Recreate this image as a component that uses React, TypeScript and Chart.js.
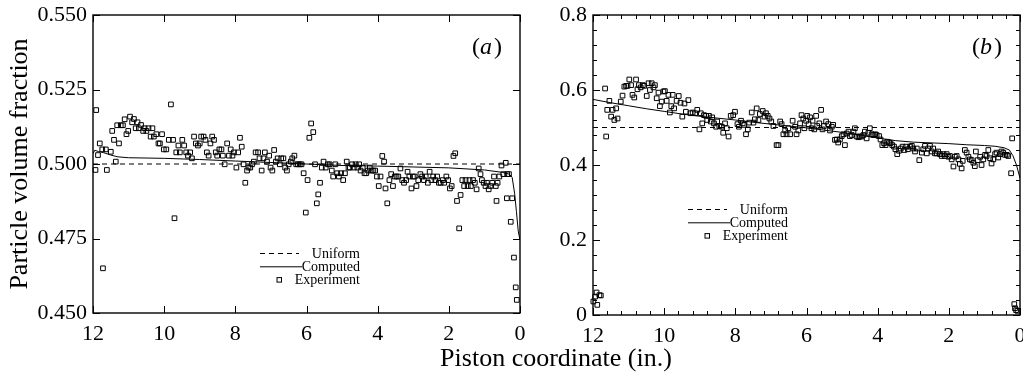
import React, { useEffect, useRef } from 'react';
import { Chart, registerables } from 'chart.js';

Chart.register(...registerables);

type P = [number, number];

const xTickValues = [12, 10, 8, 6, 4, 2, 0];
const yTickValuesA = [0.45, 0.475, 0.5, 0.525, 0.55];
const yTickValuesB = [0, 0.2, 0.4, 0.6, 0.8];
const legendLabels = ['Uniform', 'Computed', 'Experiment'];
const panelNames = ['a', 'b'];
const xTitle = 'Piston coordinate (in.)';
const yTitle = 'Particle volume fraction';

const uniformA: P[] = [[12, 0.5], [0, 0.5]];
const computedA: P[] = [
  [12, 0.5035], [11.95, 0.5046], [11.85, 0.5042], [11.7, 0.5038], [11.5, 0.503], [11.3, 0.5024],
  [11, 0.5021], [10, 0.5019], [9, 0.5015], [8, 0.501], [7, 0.5005], [6, 0.5], [5, 0.4995],
  [4, 0.4993], [3, 0.499], [2, 0.4987], [1, 0.498], [0.5, 0.4972], [0.3, 0.4966], [0.22, 0.4955],
  [0.15, 0.49], [0.1, 0.484], [0.05, 0.4775], [0, 0.4745],
];
const experimentA: P[] = [
  [11.93, 0.498], [11.91, 0.5181], [11.86, 0.503], [11.81, 0.5069], [11.74, 0.5049], [11.72, 0.465], [11.64, 0.5049], [11.61, 0.498], [11.5, 0.5041], [11.46, 0.5111], [11.41, 0.5081], [11.36, 0.5008], [11.32, 0.513], [11.27, 0.5069], [11.22, 0.513], [11.16, 0.513], [11.11, 0.515], [11.06, 0.51], [11.01, 0.5111], [10.96, 0.5159], [10.9, 0.514], [10.85, 0.5151], [10.8, 0.512], [10.75, 0.514], [10.71, 0.512], [10.65, 0.5131], [10.59, 0.5111], [10.55, 0.512], [10.5, 0.5111], [10.44, 0.512], [10.38, 0.5092], [10.33, 0.512], [10.29, 0.5092], [10.22, 0.51], [10.16, 0.5069], [10.12, 0.5069], [10.06, 0.51], [10.01, 0.5049], [9.94, 0.5049], [9.87, 0.5081], [9.81, 0.52], [9.75, 0.5081], [9.71, 0.4818], [9.66, 0.5039], [9.6, 0.5062], [9.56, 0.5039], [9.49, 0.5081], [9.44, 0.5062], [9.38, 0.5039], [9.33, 0.5028], [9.27, 0.5039], [9.22, 0.5019], [9.16, 0.5092], [9.11, 0.5069], [9.05, 0.5062], [9.0, 0.5069], [8.96, 0.5092], [8.89, 0.5092], [8.84, 0.5081], [8.8, 0.5039], [8.75, 0.5028], [8.7, 0.5069], [8.65, 0.5092], [8.6, 0.5081], [8.55, 0.5039], [8.51, 0.5028], [8.45, 0.5049], [8.39, 0.5049], [8.35, 0.5028], [8.3, 0.4999], [8.23, 0.5069], [8.18, 0.5028], [8.13, 0.5049], [8.08, 0.5028], [8.04, 0.5039], [7.97, 0.4988], [7.92, 0.5039], [7.87, 0.5088], [7.82, 0.5058], [7.77, 0.4999], [7.72, 0.4937], [7.67, 0.4978], [7.63, 0.4988], [7.58, 0.4988], [7.53, 0.4999], [7.48, 0.5008], [7.43, 0.5039], [7.36, 0.5039], [7.32, 0.5019], [7.26, 0.4978], [7.21, 0.5019], [7.17, 0.5039], [7.11, 0.5008], [7.05, 0.5028], [7.01, 0.4988], [6.96, 0.4978], [6.91, 0.5047], [6.86, 0.5008], [6.81, 0.5019], [6.75, 0.4999], [6.71, 0.5019], [6.65, 0.5019], [6.6, 0.4988], [6.55, 0.4978], [6.5, 0.4999], [6.44, 0.5008], [6.4, 0.5019], [6.34, 0.5028], [6.29, 0.4999], [6.24, 0.4999], [6.19, 0.4999], [6.14, 0.4999], [6.08, 0.4969], [6.02, 0.4837], [5.97, 0.4946], [5.92, 0.5088], [5.87, 0.5136], [5.81, 0.5107], [5.76, 0.4999], [5.71, 0.4868], [5.67, 0.4898], [5.62, 0.4937], [5.57, 0.4988], [5.52, 0.5008], [5.46, 0.4988], [5.4, 0.4999], [5.35, 0.4999], [5.29, 0.4978], [5.25, 0.4958], [5.19, 0.4999], [5.14, 0.4969], [5.09, 0.4958], [5.03, 0.4969], [4.97, 0.4946], [4.92, 0.4969], [4.87, 0.5008], [4.82, 0.4988], [4.78, 0.4988], [4.72, 0.4999], [4.67, 0.4988], [4.62, 0.4999], [4.57, 0.4988], [4.52, 0.4999], [4.48, 0.4978], [4.42, 0.4988], [4.37, 0.4969], [4.32, 0.4969], [4.27, 0.4978], [4.22, 0.4988], [4.17, 0.4978], [4.12, 0.4978], [4.07, 0.4978], [4.02, 0.4958], [3.97, 0.4926], [3.92, 0.4958], [3.87, 0.5027], [3.82, 0.5008], [3.78, 0.4918], [3.73, 0.4868], [3.67, 0.4946], [3.62, 0.4966], [3.57, 0.4926], [3.52, 0.4958], [3.47, 0.4958], [3.42, 0.4958], [3.36, 0.4985], [3.31, 0.4946], [3.26, 0.4937], [3.2, 0.4946], [3.16, 0.4974], [3.11, 0.4958], [3.05, 0.4918], [3.01, 0.4958], [2.96, 0.4958], [2.91, 0.4926], [2.86, 0.4946], [2.8, 0.4966], [2.75, 0.4958], [2.7, 0.4946], [2.65, 0.4958], [2.59, 0.4937], [2.54, 0.4974], [2.49, 0.4946], [2.44, 0.4958], [2.38, 0.4946], [2.33, 0.4958], [2.28, 0.4937], [2.23, 0.4937], [2.17, 0.4946], [2.13, 0.4937], [2.07, 0.4958], [2.02, 0.4946], [1.97, 0.4918], [1.92, 0.4926], [1.87, 0.5027], [1.82, 0.5036], [1.77, 0.4876], [1.71, 0.4784], [1.67, 0.4896], [1.62, 0.4946], [1.57, 0.4926], [1.53, 0.4946], [1.47, 0.4926], [1.42, 0.4946], [1.38, 0.4926], [1.32, 0.4946], [1.27, 0.4937], [1.22, 0.4915], [1.16, 0.4985], [1.11, 0.4966], [1.07, 0.4946], [1.02, 0.4937], [0.97, 0.4926], [0.93, 0.4937], [0.88, 0.4915], [0.83, 0.4926], [0.78, 0.4937], [0.73, 0.4958], [0.68, 0.4926], [0.66, 0.4876], [0.63, 0.4937], [0.58, 0.4958], [0.52, 0.4995], [0.47, 0.4966], [0.4, 0.5004], [0.36, 0.4966], [0.31, 0.4966], [0.37, 0.4885], [0.22, 0.4885], [0.26, 0.4806], [0.17, 0.4686], [0.12, 0.4586], [0.09, 0.4544],
];

const uniformB: P[] = [[12, 0.5], [0, 0.5]];
const computedB: P[] = [
  [12, 0.575], [11.5, 0.566], [11, 0.558], [10.5, 0.55], [10, 0.543], [9.5, 0.536], [9, 0.53],
  [8.5, 0.525], [8, 0.52], [7.5, 0.514], [7, 0.509], [6.5, 0.504], [6, 0.499], [5.5, 0.493],
  [5, 0.487], [4.5, 0.48], [4, 0.472], [3.5, 0.465], [3, 0.461], [2.5, 0.459], [2, 0.457],
  [1.5, 0.454], [1, 0.452], [0.7, 0.45], [0.45, 0.446], [0.3, 0.44], [0.2, 0.425], [0.1, 0.4], [0, 0.365],
];
const experimentB: P[] = [
  [11.99, 0.036], [11.94, 0.049], [11.9, 0.06], [11.88, 0.027], [11.82, 0.053], [11.78, 0.052],
  [0.25, 0.378], [0.22, 0.471], [0.16, 0.029], [0.11, 0.013], [0.07, 0.011], [0.14, 0.018],
  [11.66, 0.604], [11.63, 0.476], [11.6, 0.547], [11.54, 0.571], [11.49, 0.529], [11.45, 0.547], [11.4, 0.52], [11.35, 0.551], [11.31, 0.524], [11.22, 0.569], [11.17, 0.585], [11.12, 0.609], [11.07, 0.611], [11.03, 0.611], [10.98, 0.628], [10.93, 0.613], [10.89, 0.587], [10.84, 0.58], [10.79, 0.628], [10.75, 0.602], [10.71, 0.613], [10.66, 0.607], [10.6, 0.613], [10.56, 0.611], [10.49, 0.584], [10.44, 0.618], [10.4, 0.6], [10.35, 0.618], [10.3, 0.607], [10.26, 0.613], [10.21, 0.578], [10.16, 0.593], [10.12, 0.557], [10.07, 0.569], [10.02, 0.596], [9.98, 0.597], [9.93, 0.571], [9.88, 0.587], [9.84, 0.54], [9.8, 0.557], [9.76, 0.587], [9.72, 0.551], [9.65, 0.571], [9.59, 0.584], [9.54, 0.566], [9.49, 0.529], [9.43, 0.564], [9.39, 0.542], [9.32, 0.573], [9.26, 0.538], [9.2, 0.54], [9.13, 0.538], [9.07, 0.547], [9.01, 0.495], [8.97, 0.538], [8.93, 0.511], [8.88, 0.533], [8.82, 0.531], [8.79, 0.52], [8.74, 0.531], [8.69, 0.516], [8.65, 0.527], [8.6, 0.511], [8.54, 0.502], [8.51, 0.516], [8.45, 0.504], [8.38, 0.502], [8.34, 0.486], [8.29, 0.511], [8.24, 0.498], [8.19, 0.476], [8.13, 0.531], [8.06, 0.533], [8.01, 0.542], [7.94, 0.509], [7.9, 0.502], [7.84, 0.518], [7.79, 0.511], [7.75, 0.507], [7.7, 0.482], [7.65, 0.495], [7.61, 0.513], [7.54, 0.54], [7.49, 0.513], [7.45, 0.522], [7.4, 0.551], [7.35, 0.52], [7.31, 0.536], [7.23, 0.544], [7.18, 0.529], [7.14, 0.538], [7.09, 0.531], [7.04, 0.524], [6.99, 0.516], [6.93, 0.504], [6.84, 0.453], [6.79, 0.453], [6.74, 0.516], [6.7, 0.509], [6.65, 0.482], [6.6, 0.492], [6.56, 0.482], [6.51, 0.498], [6.46, 0.482], [6.39, 0.518], [6.32, 0.502], [6.28, 0.482], [6.23, 0.492], [6.18, 0.511], [6.14, 0.533], [6.09, 0.524], [6.06, 0.498], [6.01, 0.518], [5.98, 0.531], [5.94, 0.509], [5.9, 0.527], [5.86, 0.498], [5.83, 0.518], [5.78, 0.495], [5.73, 0.531], [5.7, 0.504], [5.64, 0.511], [5.59, 0.547], [5.55, 0.495], [5.51, 0.504], [5.45, 0.516], [5.39, 0.509], [5.34, 0.492], [5.29, 0.502], [5.25, 0.507], [5.2, 0.467], [5.15, 0.468], [5.11, 0.46], [5.06, 0.468], [5.01, 0.477], [4.96, 0.482], [4.92, 0.453], [4.87, 0.484], [4.82, 0.489], [4.78, 0.477], [4.73, 0.48], [4.68, 0.489], [4.64, 0.498], [4.59, 0.476], [4.54, 0.474], [4.5, 0.476], [4.45, 0.476], [4.4, 0.48], [4.36, 0.489], [4.31, 0.471], [4.26, 0.486], [4.22, 0.498], [4.17, 0.482], [4.12, 0.48], [4.07, 0.482], [4.03, 0.48], [3.96, 0.477], [3.92, 0.468], [3.87, 0.453], [3.82, 0.458], [3.78, 0.453], [3.73, 0.462], [3.68, 0.46], [3.64, 0.458], [3.59, 0.453], [3.54, 0.449], [3.5, 0.442], [3.45, 0.429], [3.4, 0.438], [3.35, 0.444], [3.3, 0.449], [3.25, 0.44], [3.2, 0.449], [3.15, 0.442], [3.09, 0.449], [3.04, 0.451], [3.0, 0.444], [2.95, 0.436], [2.9, 0.444], [2.83, 0.413], [2.76, 0.433], [2.72, 0.442], [2.67, 0.451], [2.62, 0.431], [2.58, 0.444], [2.53, 0.451], [2.48, 0.436], [2.44, 0.444], [2.39, 0.431], [2.34, 0.431], [2.3, 0.436], [2.25, 0.429], [2.2, 0.424], [2.15, 0.429], [2.11, 0.424], [2.06, 0.429], [2.01, 0.422], [1.97, 0.424], [1.92, 0.415], [1.87, 0.396], [1.83, 0.422], [1.78, 0.424], [1.73, 0.415], [1.69, 0.403], [1.64, 0.391], [1.61, 0.411], [1.55, 0.44], [1.5, 0.433], [1.45, 0.422], [1.41, 0.415], [1.36, 0.413], [1.31, 0.406], [1.27, 0.397], [1.24, 0.436], [1.19, 0.413], [1.12, 0.422], [1.08, 0.4], [1.03, 0.415], [0.98, 0.427], [0.94, 0.424], [0.89, 0.44], [0.84, 0.418], [0.8, 0.404], [0.75, 0.415], [0.7, 0.429], [0.66, 0.433], [0.61, 0.42], [0.56, 0.429], [0.52, 0.436], [0.47, 0.433], [0.42, 0.427], [0.37, 0.427], [0.33, 0.424],
];

const FONT = '"Liberation Serif", "Times New Roman", serif';

interface PanelSpec {
  name: string;
  uniform: P[];
  computed: P[];
  experiment: P[];
  yTicks: number[];
  yFormat: (v: number) => string;
  xMinorStep: number | null;
  yMinorStep: number | null;
  yAxisWidth: number;
  xAxisHeight: number;
  showYTitle: boolean;
  legendAt: { dx: number; dy: number };
}

const toXY = (arr: P[]) => arr.map(([x, y]) => ({ x, y }));

function framePlugin(spec: PanelSpec) {
  return {
    id: 'frame-' + spec.name,
    afterDraw(chart: any) {
      const { ctx, chartArea } = chart;
      const { left, right, top, bottom } = chartArea;
      const xs = chart.scales.x;
      const ys = chart.scales.y;
      ctx.save();
      ctx.strokeStyle = '#000';
      ctx.lineWidth = 1.4;
      ctx.setLineDash([]);
      ctx.strokeRect(left, top, right - left, bottom - top);

      ctx.lineWidth = 1;
      ctx.beginPath();
      const major = 7;
      const minor = 4;
      const xT = (v: number, len: number) => {
        const px = Math.round(xs.getPixelForValue(v)) + 0.5;
        ctx.moveTo(px, bottom);
        ctx.lineTo(px, bottom - len);
        ctx.moveTo(px, top);
        ctx.lineTo(px, top + len);
      };
      const yT = (v: number, len: number) => {
        const py = Math.round(ys.getPixelForValue(v)) + 0.5;
        ctx.moveTo(left, py);
        ctx.lineTo(left + len, py);
        ctx.moveTo(right, py);
        ctx.lineTo(right - len, py);
      };
      xTickValues.forEach((v) => xT(v, major));
      spec.yTicks.forEach((v) => yT(v, major));
      if (spec.xMinorStep) {
        const n = Math.round(12 / spec.xMinorStep);
        for (let i = 0; i <= n; i++) {
          const v = i * spec.xMinorStep;
          if (xTickValues.some((t) => Math.abs(t - v) < 1e-6)) continue;
          xT(v, minor);
        }
      }
      if (spec.yMinorStep) {
        const lo = spec.yTicks[0];
        const hi = spec.yTicks[spec.yTicks.length - 1];
        const n = Math.round((hi - lo) / spec.yMinorStep);
        for (let i = 0; i <= n; i++) {
          const v = lo + i * spec.yMinorStep;
          if (spec.yTicks.some((t) => Math.abs(t - v) < 1e-6)) continue;
          yT(v, minor);
        }
      }
      ctx.stroke();

      // legend
      const lx = left + spec.legendAt.dx;
      const ly = top + spec.legendAt.dy;
      const rowH = 13.3;
      ctx.font = `14px ${FONT}`;
      ctx.fillStyle = '#000';
      ctx.textAlign = 'right';
      ctx.textBaseline = 'middle';
      const textRight = lx + 100;
      ctx.beginPath();
      ctx.setLineDash([5, 4]);
      ctx.moveTo(lx, ly + 0.5);
      ctx.lineTo(lx + 39, ly + 0.5);
      ctx.stroke();
      ctx.setLineDash([]);
      ctx.fillText(legendLabels[0], textRight, ly + 1);
      ctx.beginPath();
      ctx.moveTo(lx, ly + rowH + 0.5);
      ctx.lineTo(lx + 42, ly + rowH + 0.5);
      ctx.stroke();
      ctx.fillText(legendLabels[1], textRight, ly + rowH + 1);
      ctx.strokeRect(lx + 17, ly + 2 * rowH - 2, 4.5, 4.5);
      ctx.fillText(legendLabels[2], textRight, ly + 2 * rowH + 1);

      // panel label (a)/(b)
      const cx = right - 33;
      const cy = top + 33;
      ctx.textBaseline = 'middle';
      ctx.textAlign = 'left';
      const upright = `24px ${FONT}`;
      const italic = `italic 24px ${FONT}`;
      ctx.font = upright;
      const wOpen = ctx.measureText('(').width;
      const wClose = ctx.measureText(')').width;
      ctx.font = italic;
      const wMid = ctx.measureText(spec.name).width;
      const total = wOpen + wMid + wClose + 2;
      let x0 = cx - total / 2;
      ctx.font = upright;
      ctx.fillText('(', x0, cy);
      x0 += wOpen;
      ctx.font = italic;
      ctx.fillText(spec.name, x0, cy);
      x0 += wMid + 2;
      ctx.font = upright;
      ctx.fillText(')', x0, cy);
      ctx.restore();
    },
  };
}

function buildConfig(spec: PanelSpec): any {
  const lo = spec.yTicks[0];
  const hi = spec.yTicks[spec.yTicks.length - 1];
  return {
    type: 'scatter',
    data: {
      datasets: [
        {
          type: 'line',
          label: legendLabels[0],
          data: toXY(spec.uniform),
          borderColor: '#000',
          borderWidth: 1,
          borderDash: [5, 4],
          pointRadius: 0,
          showLine: true,
          fill: false,
          tension: 0,
        },
        {
          type: 'line',
          label: legendLabels[1],
          data: toXY(spec.computed),
          borderColor: '#000',
          borderWidth: 1,
          pointRadius: 0,
          showLine: true,
          fill: false,
          tension: 0,
        },
        {
          type: 'scatter',
          label: legendLabels[2],
          data: toXY(spec.experiment),
          pointStyle: 'rect',
          pointRadius: 3.3,
          borderColor: '#000',
          backgroundColor: 'rgba(0,0,0,0)',
          borderWidth: 1,
          showLine: false,
          clip: false,
        },
      ],
    },
    options: {
      responsive: false,
      animation: false,
      devicePixelRatio: 1,
      layout: { padding: { left: 0, top: 15, right: 25, bottom: 0 } },
      plugins: { legend: { display: false }, tooltip: { enabled: false }, title: { display: false } },
      scales: {
        x: {
          type: 'linear',
          reverse: true,
          min: 0,
          max: 12,
          grid: { display: false, drawTicks: false },
          border: { display: false },
          ticks: {
            stepSize: 2,
            padding: 8,
            color: '#000',
            font: { family: FONT, size: 22 },
            maxRotation: 0,
            callback: (v: number) => String(Math.round(v)),
          },
          afterFit: (scale: any) => {
            scale.height = spec.xAxisHeight;
            scale.paddingLeft = 0;
            scale.paddingRight = 0;
          },
        },
        y: {
          type: 'linear',
          min: lo,
          max: hi,
          afterBuildTicks: (scale: any) => {
            scale.ticks = spec.yTicks.map((v) => ({ value: v }));
          },
          grid: { display: false, drawTicks: false },
          border: { display: false },
          ticks: {
            padding: 6,
            color: '#000',
            font: { family: FONT, size: 22 },
            callback: (v: number) => spec.yFormat(v),
          },
          title: {
            display: spec.showYTitle,
            text: yTitle,
            color: '#000',
            font: { family: FONT, size: 26 },
            padding: { top: 5, bottom: 0 },
          },
          afterFit: (scale: any) => {
            scale.width = spec.yAxisWidth;
            scale.paddingTop = 0;
            scale.paddingBottom = 0;
          },
        },
      },
    },
    plugins: [framePlugin(spec)],
  };
}

const specA: PanelSpec = {
  name: panelNames[0],
  uniform: uniformA,
  computed: computedA,
  experiment: experimentA,
  yTicks: yTickValuesA,
  yFormat: (v) => v.toFixed(3),
  xMinorStep: null,
  yMinorStep: null,
  yAxisWidth: 93,
  xAxisHeight: 64,
  showYTitle: true,
  legendAt: { dx: 167, dy: 238 },
};

const specB: PanelSpec = {
  name: panelNames[1],
  uniform: uniformB,
  computed: computedB,
  experiment: experimentB,
  yTicks: yTickValuesB,
  yFormat: (v) => (Math.abs(v) < 1e-9 ? '0' : v.toFixed(1)),
  xMinorStep: 0.4,
  yMinorStep: 0.04,
  yAxisWidth: 48,
  xAxisHeight: 62,
  showYTitle: false,
  legendAt: { dx: 95, dy: 194 },
};

function Panel({ spec, left, width }: { spec: PanelSpec; left: number; width: number }) {
  const ref = useRef<HTMLCanvasElement | null>(null);
  useEffect(() => {
    if (!ref.current) return;
    const chart = new Chart(ref.current, buildConfig(spec));
    return () => chart.destroy();
  }, [spec]);
  return (
    <canvas
      ref={ref}
      width={width}
      height={377}
      style={{ position: 'absolute', left, top: 0, width, height: 377 }}
    />
  );
}

export default function App() {
  return (
    <div
      style={{
        position: 'fixed',
        left: 0,
        top: 0,
        width: 1023,
        height: 377,
        overflow: 'hidden',
        background: '#fff',
      }}
    >
      <Panel spec={specA} left={0} width={545} />
      <Panel spec={specB} left={545} width={500} />
      <div
        style={{
          position: 'absolute',
          left: 556,
          top: 345,
          transform: 'translateX(-50%)',
          whiteSpace: 'nowrap',
          fontFamily: FONT,
          fontSize: 26,
          lineHeight: '26px',
          color: '#000',
        }}
      >
        {xTitle}
      </div>
    </div>
  );
}
